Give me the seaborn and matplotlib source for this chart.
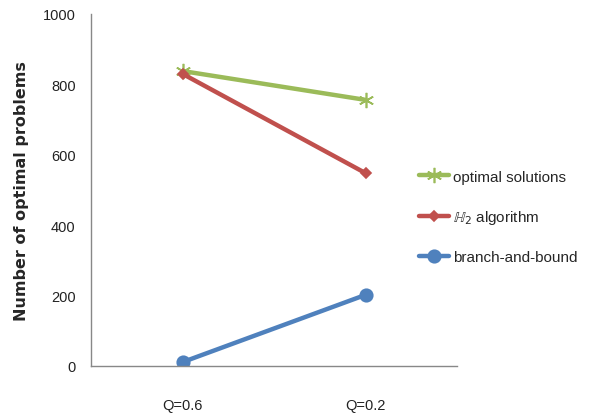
import matplotlib
matplotlib.use("Agg")
import matplotlib.pyplot as plt
import seaborn as sns
import pandas as pd

categories = ["Q=0.6", "Q=0.2"]
optimal_solutions = [838, 756]
h2_algorithm = [830, 548]
branch_and_bound = [11, 202]
series_names = ["optimal solutions", "$\\mathbb{H}_2$ algorithm", "branch-and-bound"]
y_ticks = [0, 200, 400, 600, 800, 1000]

sns.set_style("white")
plt.rcParams["font.family"] = ["Liberation Sans", "DejaVu Sans"]

rows = []
for name, vals in zip(series_names, [optimal_solutions, h2_algorithm, branch_and_bound]):
    for i, (c, v) in enumerate(zip(categories, vals)):
        rows.append({"series": name, "pos": i + 0.5, "category": c, "value": v})
df = pd.DataFrame(rows)

fig = plt.figure(figsize=(5.89, 4.14), dpi=100)
ax = fig.add_axes([91 / 589, 47 / 414, 366 / 589, 352 / 414])

palette = {series_names[0]: "#9BBB59", series_names[1]: "#C0504D", series_names[2]: "#4F81BD"}
markers = {series_names[0]: (6, 2, 0), series_names[1]: "D", series_names[2]: "o"}
sizes = {series_names[0]: 11, series_names[1]: 5, series_names[2]: 9}

for name in series_names:
    sub = df[df["series"] == name]
    sns.lineplot(data=sub, x="pos", y="value", ax=ax, color=palette[name],
                 linewidth=3.2, marker=markers[name], markersize=sizes[name],
                 markeredgecolor=palette[name], markeredgewidth=1.2,
                 label=name, legend=False)

ax.set_xlim(0, 2)
ax.set_ylim(0, 1000)
ax.set_yticks(y_ticks)
ax.set_yticklabels([str(t) for t in y_ticks], fontsize=10.5, color="#222222")
ax.set_xticks([0, 1, 2])
ax.set_xticklabels([])
ax.set_xticks([0.5, 1.5], minor=True)
ax.set_xticklabels(categories, minor=True, fontsize=10.5, color="#222222")
ax.tick_params(axis="x", which="minor", length=0, pad=23)
ax.tick_params(axis="x", which="major", length=5, direction="out", color="#888888", width=1)
ax.tick_params(axis="y", length=5, direction="out", color="#888888", width=1, pad=6)
ax.set_xlabel("")
ax.set_ylabel("Number of optimal problems", fontsize=11.5, fontweight="bold",
              family=["DejaVu Sans"], labelpad=10)

for side in ["top", "right"]:
    ax.spines[side].set_visible(False)
for side in ["left", "bottom"]:
    ax.spines[side].set_color("#888888")
    ax.spines[side].set_linewidth(1)

handles, labels = ax.get_legend_handles_labels()
leg = fig.legend(handles, labels, loc="center left", bbox_to_anchor=(405 / 589, 1 - 218 / 414),
                 frameon=False, fontsize=11, handlelength=2.0, labelspacing=1.6,
                 handletextpad=0.25)

fig.savefig("out.png", dpi=100)
